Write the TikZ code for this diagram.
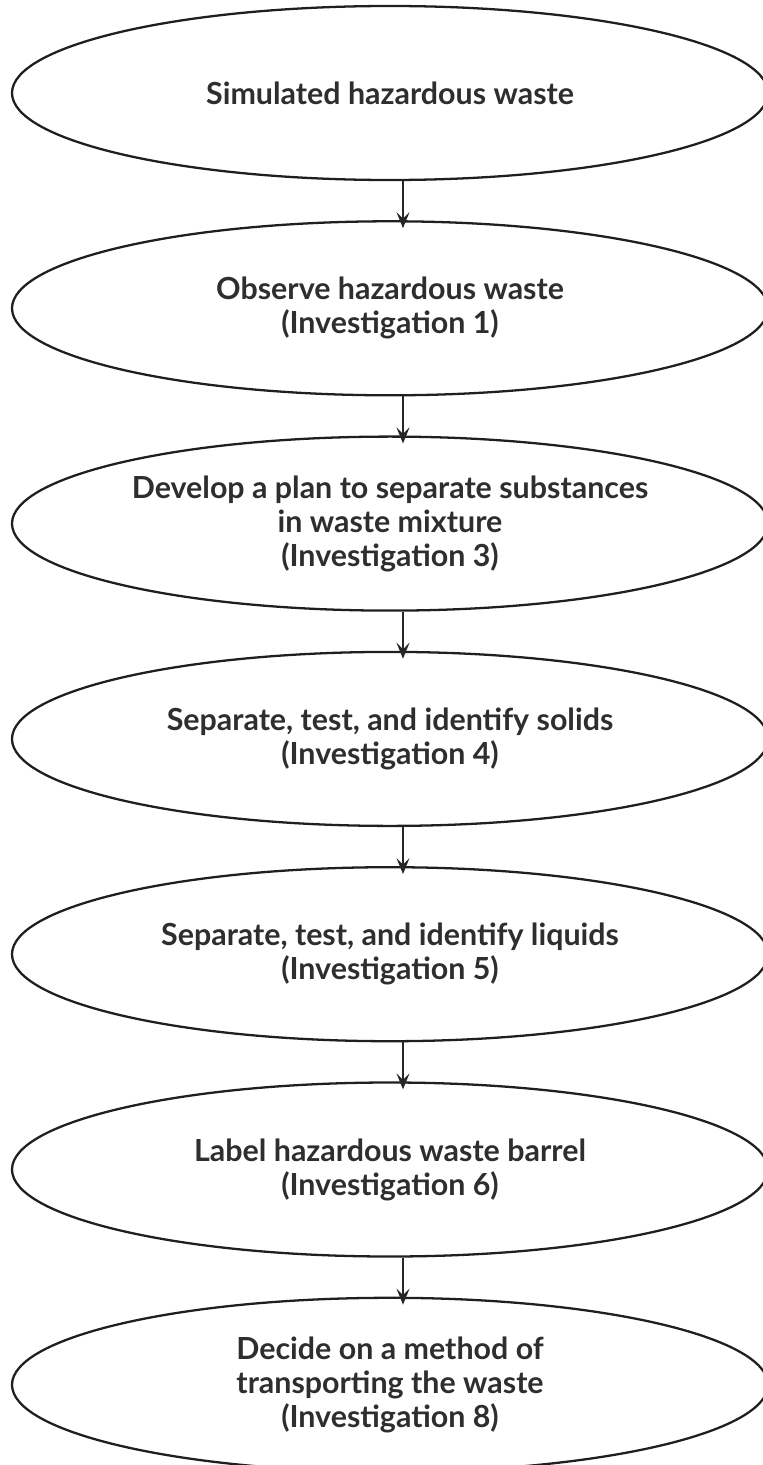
\documentclass[tikz,border=0pt]{standalone}
\usepackage{fontspec}
\setmainfont{Lato}
\usetikzlibrary{shapes.geometric,arrows.meta}

\begin{document}
\begin{tikzpicture}[
  stage/.style={ellipse,draw=black!88,line width=1.3pt,
    minimum width=15.12cm,minimum height=3.48cm,inner sep=0pt,
    align=center,text=black!82,
    font=\fontsize{17.3pt}{19.4pt}\selectfont\bfseries},
  flow/.style={draw=black!85,line width=.9pt,
    -{Stealth[length=.32cm,width=.26cm,inset=.13cm]},shorten >=-.16cm}]
 \useasboundingbox (0,0) rectangle (15.24,-29.3);
 \pgfmathsetmacro{\gapy}{4.306}
 \node[stage] (waste) at (7.8,-1.86) {Simulated hazardous waste};
 \node[stage] (observe) at (7.8,{-1.86-\gapy})
   {Observe hazardous waste\\(Investigation 1)};
 \node[stage] (plan) at (7.8,{-1.86-2*\gapy})
   {Develop a plan to separate substances\\in waste mixture\\(Investigation 3)};
 \node[stage] (solids) at (7.8,{-1.86-3*\gapy})
   {Separate, test, and identify solids\\(Investigation 4)};
 \node[stage] (liquids) at (7.8,{-1.86-4*\gapy})
   {Separate, test, and identify liquids\\(Investigation 5)};
 \node[stage] (barrel) at (7.8,{-1.86-5*\gapy})
   {Label hazardous waste barrel\\(Investigation 6)};
 \node[stage] (transport) at (7.8,{-1.86-6*\gapy})
   {Decide on a method of\\transporting the waste\\(Investigation 8)};
 % arrows sit a little right of the centre line
 \foreach \from/\to in {waste/observe,observe/plan,plan/solids,
   solids/liquids,liquids/barrel,barrel/transport}
  \draw[flow] ([xshift=.26cm]\from.south) -- ([xshift=.26cm]\to.north);
\end{tikzpicture}
\end{document}
